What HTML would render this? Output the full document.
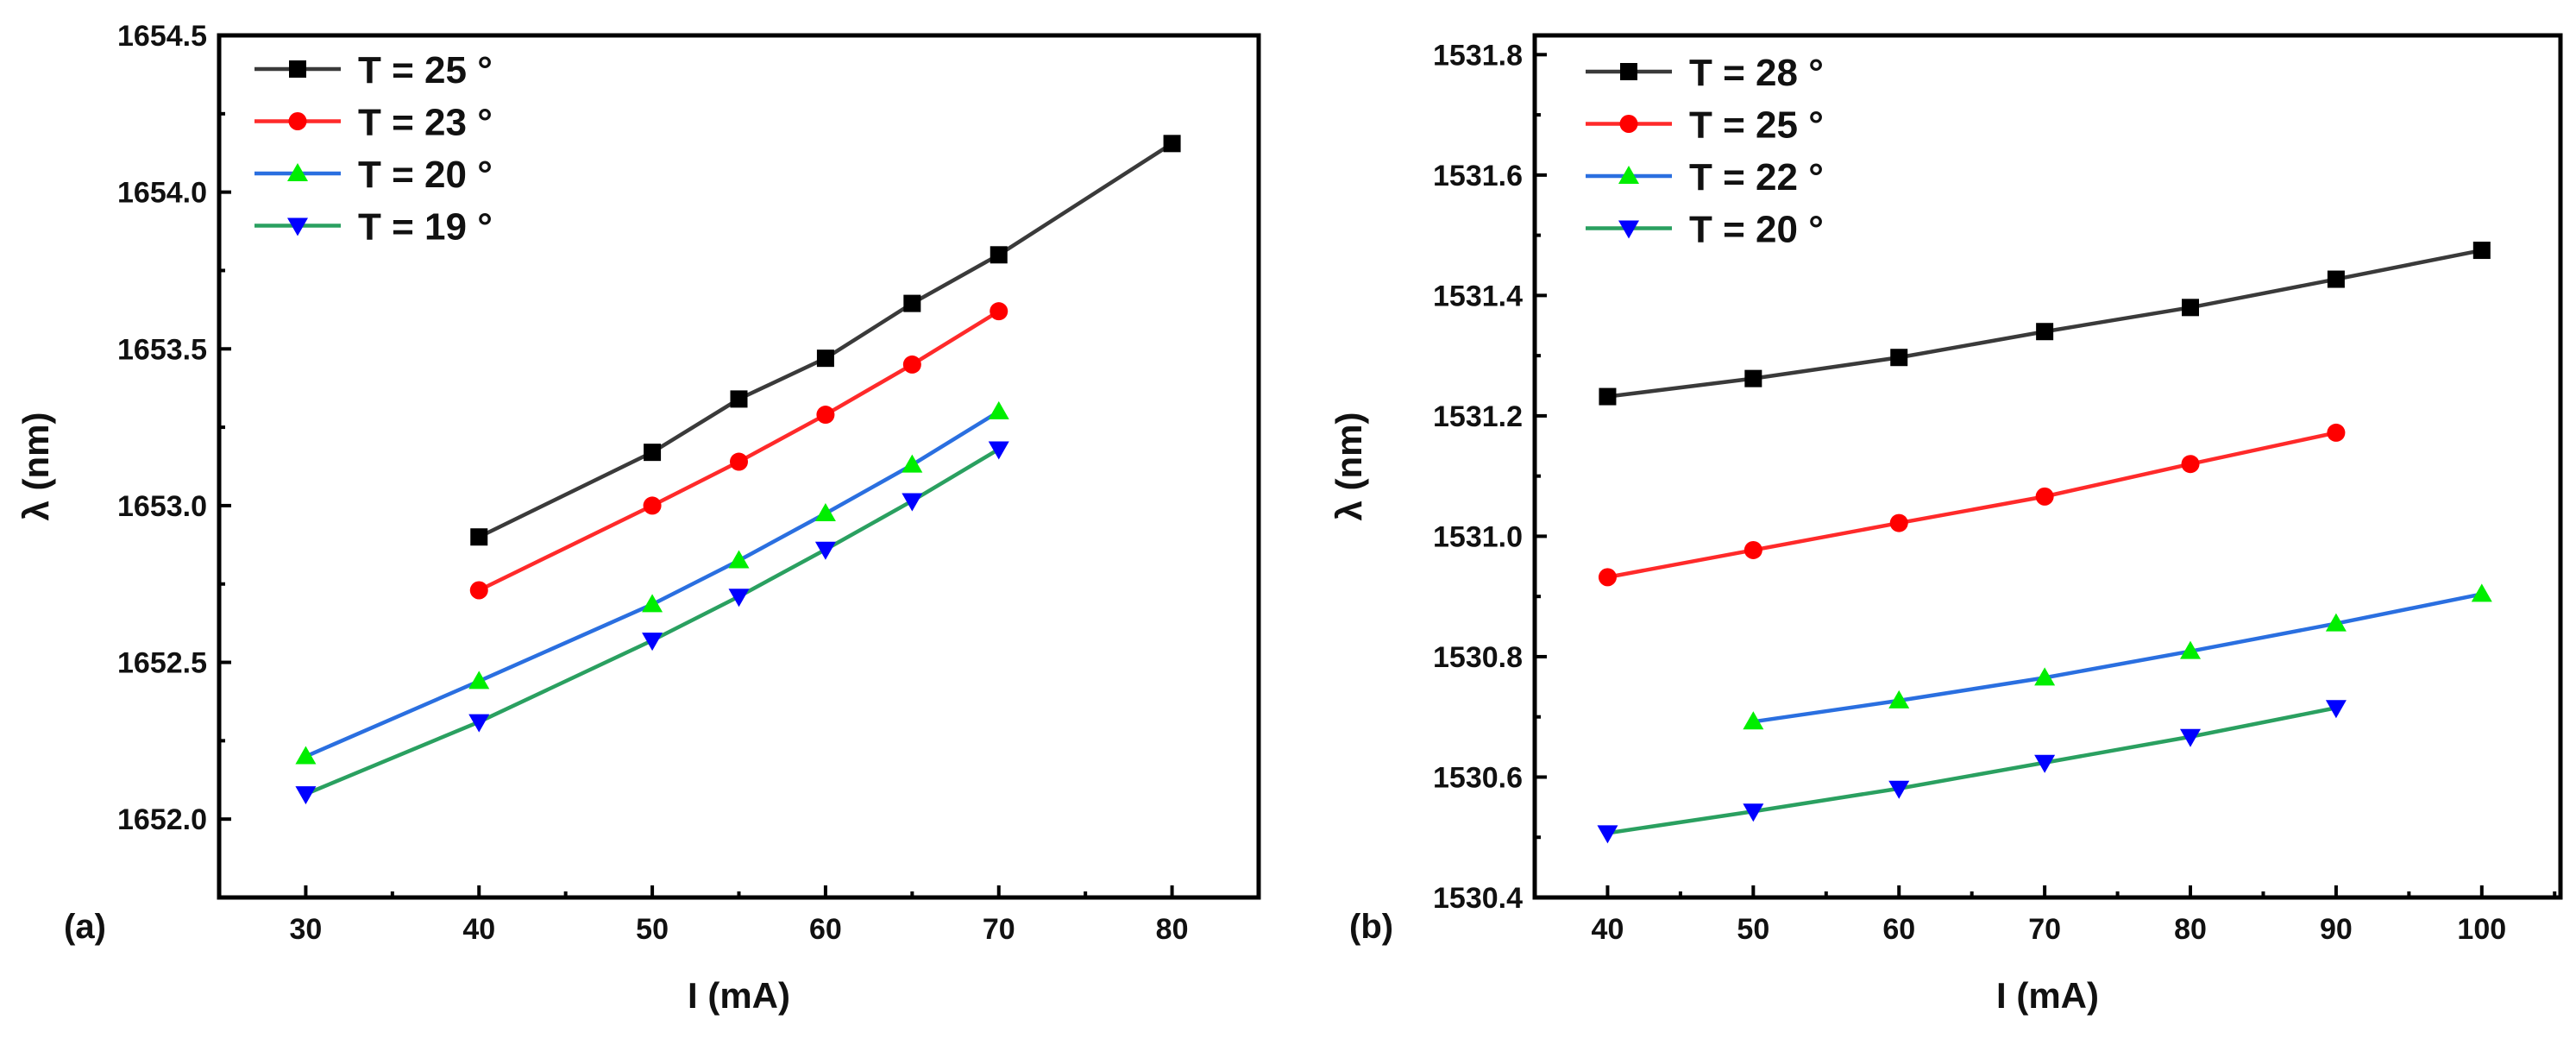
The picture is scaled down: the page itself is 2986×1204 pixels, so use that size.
<!DOCTYPE html>
<html><head><meta charset="utf-8">
<style>
html,body{margin:0;padding:0;background:#fff;}
svg{display:block;font-family:"Liberation Sans",Arial,sans-serif;font-weight:bold;}
</style></head>
<body>
<svg id="fig" width="2986" height="1204" viewBox="0 0 2986 1204" xmlns="http://www.w3.org/2000/svg"></svg>
<script>
// Panel (a) data
const aXTicks = [30, 40, 50, 60, 70, 80];
const aYTicks = [1652.0, 1652.5, 1653.0, 1653.5, 1654.0, 1654.5];
const aYTickLabels = ["1652.0","1652.5","1653.0","1653.5","1654.0","1654.5"];
const aNames = ["T = 25 °","T = 23 °","T = 20 °","T = 19 °"];
const aX25 = [40,50,55,60,65,70,80];
const aY25 = [1652.90,1653.17,1653.34,1653.47,1653.645,1653.80,1654.155];
const aX23 = [40,50,55,60,65,70];
const aY23 = [1652.73,1653.00,1653.14,1653.29,1653.45,1653.62];
const aX20 = [30,40,50,55,60,65,70];
const aY20 = [1652.20,1652.44,1652.685,1652.825,1652.975,1653.13,1653.30];
const aX19 = [30,40,50,55,60,65,70];
const aY19 = [1652.08,1652.31,1652.57,1652.71,1652.86,1653.015,1653.18];
// Panel (b) data
const bXTicks = [40, 50, 60, 70, 80, 90, 100];
const bYTicks = [1530.4,1530.6,1530.8,1531.0,1531.2,1531.4,1531.6,1531.8];
const bYTickLabels = ["1530.4","1530.6","1530.8","1531.0","1531.2","1531.4","1531.6","1531.8"];
const bNames = ["T = 28 °","T = 25 °","T = 22 °","T = 20 °"];
const bX28 = [40,50,60,70,80,90,100];
const bY28 = [1531.232,1531.262,1531.297,1531.340,1531.380,1531.427,1531.475];
const bX25 = [40,50,60,70,80,90];
const bY25 = [1530.932,1530.977,1531.022,1531.066,1531.120,1531.172];
const bX22 = [50,60,70,80,90,100];
const bY22 = [1530.692,1530.727,1530.765,1530.809,1530.855,1530.904];
const bX20 = [40,50,60,70,80,90];
const bY20 = [1530.507,1530.543,1530.581,1530.624,1530.667,1530.715];

const NS = "http://www.w3.org/2000/svg";
const svg = document.getElementById('fig');
const colors = ["#3a3a3a","#ff2a2a","#2a6fe0","#2aa060"];
const mcolors = ["#000","#ff0000","#00ee00","#0000ff"];
const markers = ["square","circle","up","down"];

function mk(tag, attrs, parent){
  const e = document.createElementNS(NS, tag);
  for (const k in attrs) e.setAttribute(k, attrs[k]);
  (parent||svg).appendChild(e);
  return e;
}
function marker(g, kind, x, y, c){
  let e;
  if (kind==="square") e = mk('rect',{x:x-10,y:y-10,width:20,height:20,fill:c},g);
  else if (kind==="circle") e = mk('circle',{cx:x,cy:y,r:10.5,fill:c},g);
  else if (kind==="up") e = mk('polygon',{points:`${x},${y-12} ${x+12},${y+9} ${x-12},${y+9}`,fill:c},g);
  else e = mk('polygon',{points:`${x},${y+12} ${x+12},${y-9} ${x-12},${y-9}`,fill:c},g);
  
  
}

function panel(o){
  const sx = v => o.L + (v-o.x0)/(o.x1-o.x0)*(o.R-o.L);
  const sy = v => o.B - (v-o.y0)/(o.y1-o.y0)*(o.B-o.T);
  const g = mk('g',{});
  
  
  const xt = mk('g',{stroke:'#000','stroke-width':4},g);
  
  
  o.xticks.forEach((v,i)=>{
    const x = sx(v);
    mk('line',{x1:x,y1:o.B,x2:x,y2:o.B-14},xt);
    const t = mk('text',{x:x,y:o.B+48,'text-anchor':'middle','font-size':34,fill:'#111',stroke:'none'},g);
    t.textContent = String(v);
    
    
    const m = v + (o.xticks[1]-o.xticks[0])/2;
    if (sx(m) < o.R) mk('line',{x1:sx(m),y1:o.B,x2:sx(m),y2:o.B-7},xt);
    if (i===0){ const m0 = v-(o.xticks[1]-o.xticks[0])/2; if (sx(m0)>o.L) mk('line',{x1:sx(m0),y1:o.B,x2:sx(m0),y2:o.B-7},xt);}
  });
  const yt = mk('g',{stroke:'#000','stroke-width':4},g);
  
  
  o.yticks.forEach((v,i)=>{
    const y = sy(v);
    mk('line',{x1:o.L,y1:y,x2:o.L+14,y2:y},yt);
    const t = mk('text',{x:o.L-14,y:y+12,'text-anchor':'end','font-size':34,fill:'#111',stroke:'none'},g);
    t.textContent = o.ylabels[i];
    
    
    const step = o.yticks[1]-o.yticks[0];
    const m = v + step/2, m0 = v - step/2;
    if (sy(m) > o.T) mk('line',{x1:o.L,y1:sy(m),x2:o.L+7,y2:sy(m)},yt);
    if (i===0 && sy(m0) < o.B) mk('line',{x1:o.L,y1:sy(m0),x2:o.L+7,y2:sy(m0)},yt);
  });
  const f = mk('rect',{x:o.L,y:o.T,width:o.R-o.L,height:o.B-o.T,fill:'none',stroke:'#000','stroke-width':5},g);
  
  
  o.series.forEach((s,k)=>{
    const sg = mk('g',{},g);
    
    
    const pts = s.x.map((v,i)=>sx(v)+','+sy(s.y[i])).join(' ');
    const pl = mk('polyline',{points:pts,fill:'none',stroke:colors[k],'stroke-width':4.5},sg);
    
    
    s.x.forEach((v,i)=>marker(sg,markers[k],sx(v),sy(s.y[i]),mcolors[k]));
    const ly = o.legY + k*60.5;
    const lg = mk('g',{},g);
    
    
    mk('line',{x1:o.legX,y1:ly,x2:o.legX+100,y2:ly,stroke:colors[k],'stroke-width':4.5},lg);
    marker(lg,markers[k],o.legX+50,ly,mcolors[k]);
    const t = mk('text',{x:o.legX+120,y:ly+16,'font-size':44,fill:'#111'},lg);
    t.textContent = o.names[k];
  });
  const xl = mk('text',{x:(o.L+o.R)/2,y:1168,'text-anchor':'middle','font-size':42,fill:'#111'},g);
  xl.textContent = 'I (mA)';
  
  
  const yl = mk('text',{x:0,y:0,'text-anchor':'middle','font-size':42,fill:'#111',transform:`translate(${o.ylX},${(o.T+o.B)/2}) rotate(-90)`},g);
  yl.textContent = 'λ (nm)';
  
  
  const pl = mk('text',{x:o.plX,y:1087,'font-size':40,fill:'#111'},g);
  pl.textContent = o.plab;
  
  
}

panel({id:'a',L:254,R:1459,T:41,B:1040,x0:25,x1:85,y0:1651.75,y1:1654.5,
  xticks:aXTicks,yticks:aYTicks,ylabels:aYTickLabels,names:aNames,
  series:[{x:aX25,y:aY25},{x:aX23,y:aY23},{x:aX20,y:aY20},{x:aX19,y:aY19}],
  legX:295,legY:80,ylX:56,plX:74,plab:'(a)'});
panel({id:'b',L:1779,R:2968,T:41,B:1040,x0:35,x1:105.4,y0:1530.4,y1:1531.832,
  xticks:bXTicks,yticks:bYTicks,ylabels:bYTickLabels,names:bNames,
  series:[{x:bX28,y:bY28},{x:bX25,y:bY25},{x:bX22,y:bY22},{x:bX20,y:bY20}],
  legX:1838,legY:83,ylX:1578,plX:1564,plab:'(b)'});
</script>
</body></html>
